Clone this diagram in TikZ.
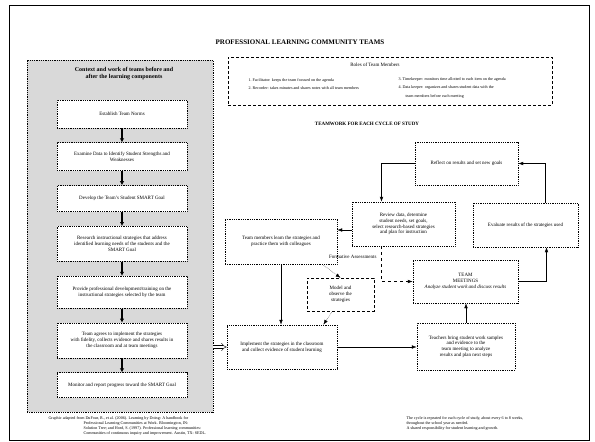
\documentclass[tikz,border=0pt]{standalone}
\usepackage{fontspec}
\setmainfont{Liberation Serif}
\usepackage{tikz}
\usetikzlibrary{arrows.meta, positioning}

\begin{document}
\begin{tikzpicture}[
  x=1pt, y=-1pt,
  node distance=14pt,
  every node/.style={font=\fontsize{5}{5.8}\selectfont},
  box/.style={draw, densely dotted, thick, fill=white, align=center, inner sep=1pt},
  stepbox/.style={box, minimum width=130pt},
  arrow/.style={-Latex},
  bigarrow/.style={-{Latex[length=4pt,width=4.5pt]}, line width=1.6pt},
  note/.style={align=left, font=\fontsize{4.1}{4.9}\selectfont}
]
\useasboundingbox (0,0) rectangle (595,442);
\draw[line width=1pt] (9,5) rectangle (589,440);

% Title
\node[font=\bfseries\fontsize{7}{8}\selectfont] (title) at (300,42) {PROFESSIONAL LEARNING COMMUNITY TEAMS};

% Left panel
\node[draw, densely dotted, thick, fill=black!15, minimum width=186pt, minimum height=352pt] (panel) at (120,236) {};
\node[font=\bfseries\fontsize{6}{7}\selectfont, align=center] (context) at (124,74) {Context and work of teams before and\\after the learning components};

\node[stepbox, minimum height=28pt] (s1) at (122,114) {Establish Team Norms};
\node[stepbox, minimum height=28pt, below=of s1] (s2) {Examine Data to Identify Student Strengths and\\Weaknesses};
\node[stepbox, minimum height=26pt, below=of s2] (s3) {Develop the Team's Student SMART Goal};
\node[stepbox, minimum height=35pt, below=of s3] (s4) {Research instructional strategies that address\\identified learning needs of the students and the\\SMART Goal};
\node[stepbox, minimum height=32pt, below=of s4] (s5) {Provide professional development/training on the\\instructional strategies selected by the team};
\node[stepbox, minimum height=35pt, below=of s5] (s6) {Team agrees to implement the strategies\\with fidelity, collects evidence and shares results in\\the classroom and at team meetings};
\node[stepbox, minimum height=25pt, below=of s6] (s7) {Monitor and report progress toward the SMART Goal};

\draw[bigarrow] (s1) -- (s2);
\draw[bigarrow] (s2) -- (s3);
\draw[bigarrow] (s3) -- (s4);
\draw[bigarrow] (s4) -- (s5);
\draw[bigarrow] (s5) -- (s6);
\draw[bigarrow] (s6) -- (s7);

% Roles
\node[draw, densely dashed, minimum width=324pt, minimum height=48pt] (roles) at (390,81) {};
\node (rolestitle) at (375,65) {Roles of Team Members};
\node[note, anchor=west] (r1) at (245,80) {1.\ Facilitator: keeps the team focused on the agenda};
\node[note, anchor=west] (r2) at (245,88) {2.\ Recorder: takes minutes and shares notes with all team members};
\node[note, anchor=west] (r3) at (395,80) {3.\ Timekeeper: monitors time allotted to each item on the agenda};
\node[note, anchor=west] (r4) at (395,88) {4.\ Data keeper: organizes and shares student data with the};
\node[note, anchor=west] (r4b) at (402,96) {team members before each meeting};

% Cycle of study
\node[font=\bfseries\fontsize{5}{6}\selectfont] (cycle) at (367,124) {TEAMWORK FOR EACH CYCLE OF STUDY};

\node[box, minimum width=103pt, minimum height=43pt] (reflect) at (466.5,163.5) {Reflect on results and set new goals};
\node[box, minimum width=103pt, minimum height=44pt] (review) at (403.5,224) {Review data, determine\\student needs, set goals,\\select research-based strategies\\and plan for instruction};
\node[box, minimum width=105pt, minimum height=44pt] (evaluate) at (525.5,225) {Evaluate results of the strategies used};
\node[box, minimum width=112pt, minimum height=45pt] (learn) at (281,241.5) {Team members learn the strategies and\\practice them with colleagues};
\node[box, densely dashed, thin, minimum width=67pt, minimum height=33pt] (model) at (340.5,294.5) {Model and\\observe the\\strategies};
\node[box, minimum width=110pt, minimum height=44pt] (implement) at (282,347) {Implement the strategies in the classroom\\and collect evidence of student learning};
\node[box, minimum width=105pt, minimum height=43pt] (team) at (465.5,281.5) {TEAM\\MEETINGS\\\textit{Analyze student work and discuss results}};
\node[box, minimum width=98pt, minimum height=47pt] (bring) at (466,346.5) {Teachers bring student work samples\\and evidence to the\\team meeting to analyze\\results and plan next steps};
\node[anchor=east] (formative) at (380,257) {Formative Assessments};

\draw[arrow] (reflect.west) -| ([xshift=-22pt]review.north);
\draw[arrow] ([xshift=20pt]evaluate.north) |- (reflect.east);
\draw[arrow] ([yshift=-6pt]review.west) -- ([yshift=-6pt]review.west -| learn.east);
\draw[arrow, dashed] ([xshift=-22pt]review.south) |- (team.west);
\draw[arrow] (team.east) -| ([xshift=21pt]evaluate.south);
\draw[arrow] (bring.north) -- (bring.north |- team.south);
\draw[arrow] (learn.south) -- (learn.south |- implement.north);
\draw[arrow, densely dotted] ([xshift=-15pt]learn.south east) -- (model.north);
\draw[arrow, densely dotted] ([xshift=-8pt]model.south) -- ([xshift=-14pt]implement.north east);
\draw[arrow] (implement.east) -- (implement.east -| bring.west);
\draw[-{Implies}, double, double distance=2.5pt] (panel.east |- implement.west) -- (implement.west);

% Notes
\node[note, anchor=north west] (source) at (45,413) {Graphic adapted from DuFour, R., et al. (2006). Learning by Doing: A handbook for\\
\hspace*{35pt}Professional Learning Communities at Work. Bloomington, IN:\\
\hspace*{35pt}Solution Tree; and Hord, S. (1997). Professional learning communities:\\
\hspace*{35pt}Communities of continuous inquiry and improvement. Austin, TX: SEDL.};
\node[note, anchor=north west] (repeat) at (403,413) {The cycle is repeated for each cycle of study, about every 6 to 8 weeks,\\
throughout the school year as needed.\\
A shared responsibility for student learning and growth.};
\end{tikzpicture}
\end{document}
